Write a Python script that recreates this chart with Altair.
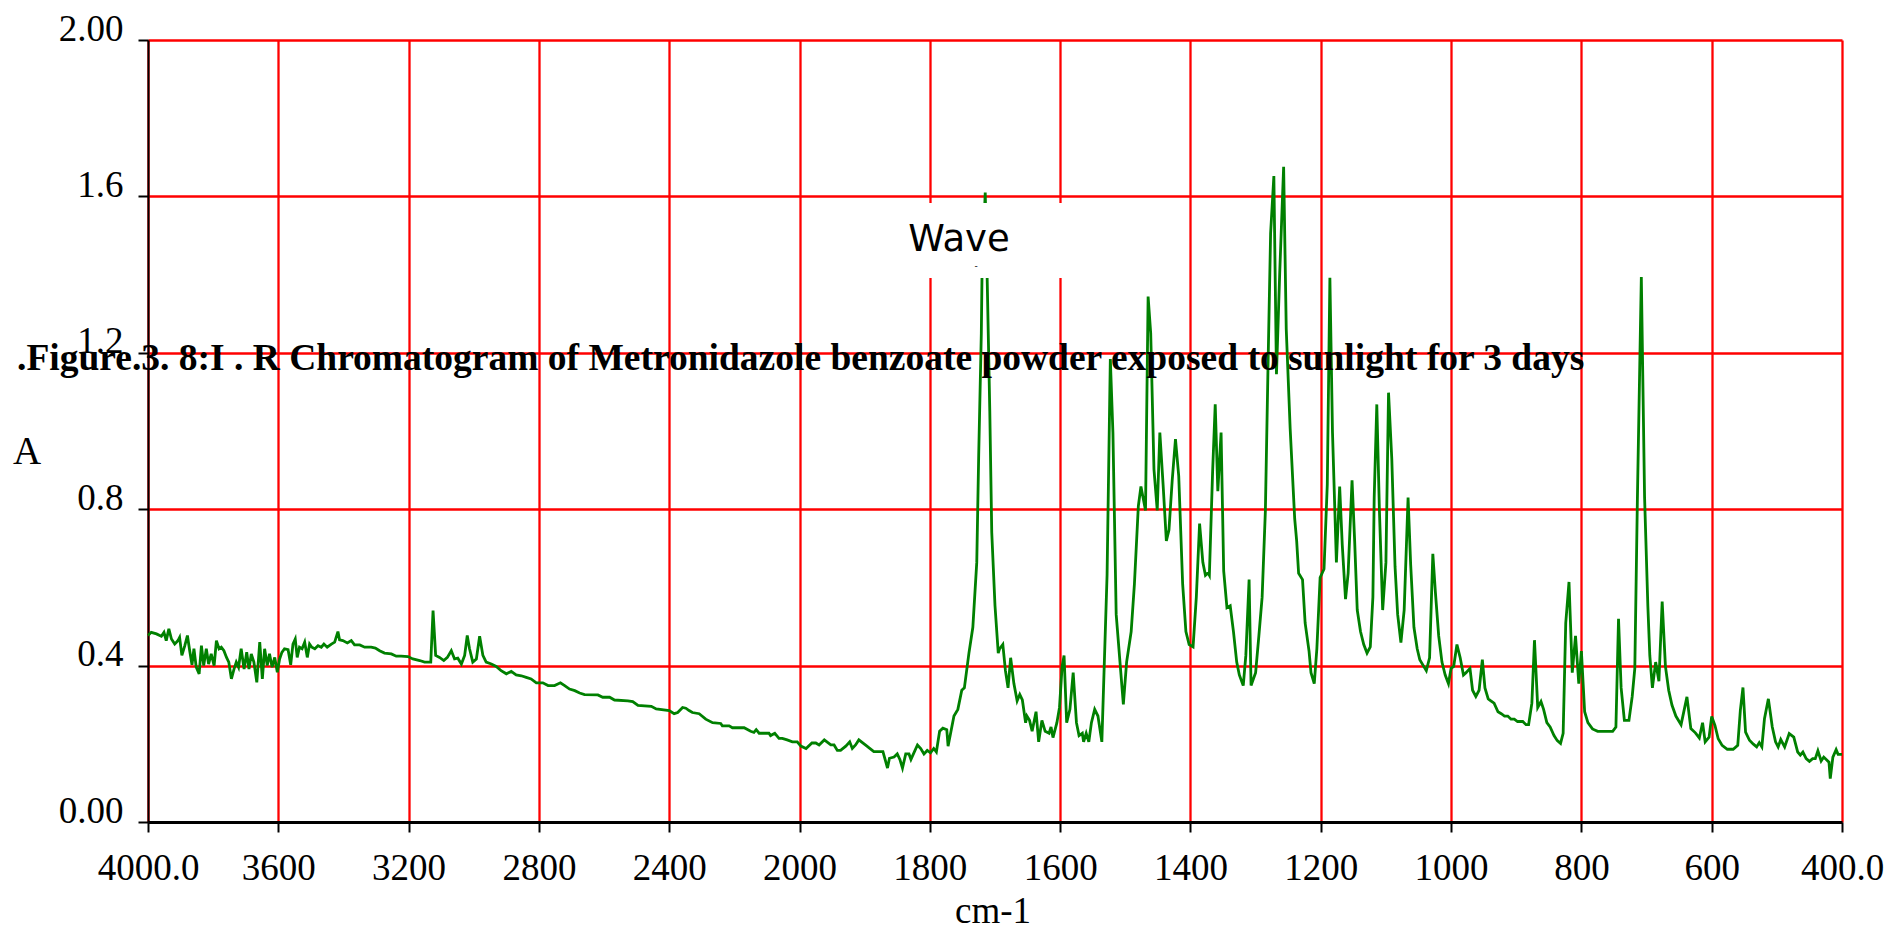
import altair as alt
import pandas as pd

# ---------------- data ----------------
WAVENUMBER = [
    4000, 3990, 3974, 3959, 3951, 3944, 3936, 3928, 3918, 3908, 3903, 3896, 3887, 3879, 3872, 3865,
    3859, 3852, 3843, 3836, 3829, 3821, 3814, 3806, 3797, 3790, 3782, 3775, 3767, 3759, 3752, 3744,
    3736, 3729, 3722, 3714, 3705, 3697, 3690, 3683, 3675, 3666, 3657, 3649, 3642, 3634, 3627, 3619,
    3611, 3603, 3596, 3589, 3581, 3570, 3562, 3555, 3548, 3542, 3535, 3527, 3519, 3511, 3504, 3497,
    3488, 3478, 3468, 3460, 3450, 3437, 3427, 3417, 3412, 3402, 3388, 3376, 3366, 3350, 3335, 3315,
    3302, 3289, 3274, 3253, 3238, 3223, 3202, 3187, 3166, 3151, 3132, 3125, 3117, 3105, 3092, 3081,
    3069, 3059, 3049, 3038, 3028, 3020, 3013, 3003, 2992, 2982, 2972, 2962, 2946, 2931, 2916, 2900,
    2885, 2870, 2854, 2839, 2824, 2808, 2788, 2772, 2752, 2734, 2721, 2706, 2690, 2675, 2660, 2619,
    2604, 2583, 2568, 2527, 2512, 2496, 2455, 2440,
    2400, 2385, 2374, 2359, 2349, 2339, 2329, 2308, 2288, 2267, 2242, 2237, 2216, 2206, 2170, 2150,
    2140, 2133, 2124, 2094, 2089, 2076, 2063, 2053, 2038, 2022, 2007, 1998, 1990, 1981, 1975, 1970,
    1962, 1952, 1947, 1942, 1937, 1929, 1923, 1919, 1914, 1909, 1899, 1886, 1872, 1865, 1862, 1855,
    1850, 1846, 1842, 1837, 1832, 1829, 1819, 1814, 1809, 1804, 1799, 1794, 1790, 1785, 1780, 1774,
    1772, 1763, 1757, 1751, 1747, 1740, 1734, 1728, 1725, 1721, 1720, 1715, 1712, 1708, 1705, 1700,
    1695, 1693, 1688, 1684, 1680, 1676, 1671, 1666, 1662, 1658, 1653, 1651, 1647, 1643, 1637, 1633,
    1628, 1623, 1617, 1614, 1611, 1605, 1601, 1597, 1594, 1590, 1585, 1580, 1575, 1571, 1566, 1564,
    1560, 1556, 1552, 1547, 1542, 1536, 1528, 1523, 1519, 1514, 1503, 1498, 1491, 1486, 1480, 1476,
    1469, 1465, 1461, 1456, 1451, 1447, 1442, 1437, 1433, 1428, 1423, 1418,
    1412, 1407, 1402, 1396, 1391, 1386, 1381, 1377, 1373, 1371, 1366, 1362, 1358, 1353, 1349, 1344,
    1339, 1334, 1329, 1325, 1319, 1315, 1310, 1307, 1300, 1295, 1290, 1285, 1281, 1277, 1272, 1268,
    1263, 1257, 1253, 1247, 1240, 1237, 1234, 1228, 1224, 1218, 1215, 1210, 1206, 1201, 1195, 1190,
    1186, 1182, 1176, 1171, 1167, 1162, 1158, 1152, 1148, 1144, 1139, 1134, 1129, 1124, 1120, 1118,
    1114, 1110, 1105, 1100, 1096, 1091, 1086, 1082, 1077, 1072, 1066, 1062, 1057, 1052, 1048, 1042,
    1038, 1033, 1028, 1024, 1019, 1014, 1009, 1004, 1000, 996, 991, 986, 981, 977, 971, 967,
    962, 957, 952, 948, 943, 939, 934, 928, 923, 918, 913, 908, 903, 898, 890, 885,
    881, 876, 872, 867, 862, 858, 853, 848, 842, 837, 832, 828, 824, 819, 814, 809,
    804, 800, 795, 790, 783, 775, 752, 747, 743, 739, 734, 727, 722, 718, 714, 708,
    703, 698, 695, 691, 686, 681, 676, 671, 666, 661, 655, 647,
    638, 632, 625, 619, 614, 610, 604, 600, 595, 590, 584, 576, 567, 560, 556, 552,
    548, 542, 536, 531, 527, 523, 519, 513, 507, 502, 498, 494, 488, 481, 474, 468,
    464, 460, 455, 450, 445, 441, 437, 432, 428, 420, 418, 414, 409, 406, 400,
]

ABSORBANCE = [
    0.477, 0.485, 0.481, 0.475, 0.485, 0.464, 0.494, 0.468, 0.455, 0.464, 0.472, 0.426, 0.451, 0.477, 0.438, 0.402,
    0.443, 0.396, 0.379, 0.451, 0.400, 0.443, 0.404, 0.430, 0.400, 0.464, 0.443, 0.447, 0.438, 0.421, 0.409, 0.366,
    0.391, 0.409, 0.396, 0.443, 0.391, 0.434, 0.391, 0.430, 0.409, 0.357, 0.460, 0.366, 0.443, 0.400, 0.430, 0.396,
    0.421, 0.383, 0.417, 0.434, 0.443, 0.441, 0.402, 0.455, 0.468, 0.421, 0.447, 0.443, 0.460, 0.421, 0.455, 0.447,
    0.443, 0.451, 0.447, 0.455, 0.447, 0.455, 0.460, 0.487, 0.466, 0.464, 0.458, 0.464, 0.453, 0.453, 0.447, 0.447,
    0.445, 0.438, 0.432, 0.430, 0.424, 0.424, 0.423, 0.417, 0.413, 0.409, 0.409, 0.541, 0.426, 0.421, 0.413, 0.421,
    0.438, 0.417, 0.419, 0.404, 0.426, 0.477, 0.443, 0.409, 0.417, 0.475, 0.426, 0.409, 0.404, 0.398, 0.387, 0.379,
    0.385, 0.376, 0.374, 0.370, 0.366, 0.356, 0.356, 0.349, 0.349, 0.356, 0.349, 0.340, 0.336, 0.330, 0.326, 0.325,
    0.319, 0.319, 0.312, 0.310, 0.308, 0.298, 0.296, 0.289,
    0.285, 0.277, 0.280, 0.293, 0.291, 0.285, 0.280, 0.277, 0.263, 0.254, 0.252, 0.246, 0.246, 0.241, 0.241, 0.232,
    0.229, 0.236, 0.227, 0.227, 0.221, 0.227, 0.214, 0.214, 0.210, 0.205, 0.205, 0.194, 0.188, 0.202, 0.202, 0.197,
    0.210, 0.197, 0.197, 0.183, 0.183, 0.194, 0.205, 0.188, 0.197, 0.210, 0.197, 0.180, 0.180, 0.138, 0.163, 0.166,
    0.174, 0.160, 0.138, 0.174, 0.174, 0.160, 0.197, 0.188, 0.174, 0.183, 0.177, 0.188, 0.179, 0.232, 0.240, 0.236,
    0.194, 0.271, 0.288, 0.337, 0.343, 0.432, 0.498, 0.664, 0.940, 1.250, 1.389, 1.610, 1.389, 1.051, 0.741, 0.553,
    0.432, 0.443, 0.454, 0.387, 0.343, 0.420, 0.354, 0.310, 0.326, 0.312, 0.254, 0.271, 0.260, 0.232, 0.282, 0.205,
    0.260, 0.232, 0.227, 0.243, 0.216, 0.254, 0.293, 0.398, 0.426, 0.254, 0.288, 0.382, 0.254, 0.221, 0.227, 0.205,
    0.227, 0.205, 0.254, 0.288, 0.271, 0.205, 0.631, 1.184, 0.996, 0.531, 0.301, 0.409, 0.487, 0.609, 0.808, 0.858,
    0.797, 1.344, 1.250, 0.902, 0.797, 0.996, 0.863, 0.719, 0.747, 0.874, 0.979, 0.885,
    0.609, 0.487, 0.454, 0.448, 0.575, 0.763, 0.664, 0.631, 0.637, 0.631, 0.896, 1.068, 0.846, 0.996, 0.642, 0.548,
    0.553, 0.487, 0.409, 0.376, 0.349, 0.426, 0.620, 0.349, 0.382, 0.476, 0.575, 0.797, 1.162, 1.505, 1.652, 1.145,
    1.405, 1.676, 1.261, 1.007, 0.775, 0.719, 0.636, 0.620, 0.509, 0.437, 0.382, 0.354, 0.443, 0.625, 0.647, 0.863,
    1.392, 0.996, 0.664, 0.858, 0.708, 0.570, 0.636, 0.874, 0.719, 0.542, 0.487, 0.454, 0.432, 0.448, 0.575, 0.830,
    1.068, 0.797, 0.542, 0.664, 1.098, 0.929, 0.653, 0.531, 0.459, 0.542, 0.830, 0.658, 0.498, 0.443, 0.415, 0.398,
    0.387, 0.420, 0.686, 0.586, 0.476, 0.409, 0.376, 0.354, 0.393, 0.398, 0.454, 0.420, 0.376, 0.382, 0.393, 0.337,
    0.321, 0.337, 0.415, 0.343, 0.315, 0.310, 0.304, 0.282, 0.277, 0.271, 0.271, 0.263, 0.263, 0.257, 0.257, 0.249,
    0.249, 0.304, 0.465, 0.293, 0.308, 0.288, 0.254, 0.243, 0.221, 0.208, 0.201, 0.227, 0.509, 0.614, 0.382, 0.476,
    0.354, 0.437, 0.282, 0.254, 0.238, 0.232, 0.232, 0.243, 0.520, 0.343, 0.260, 0.260, 0.321, 0.393, 0.830, 1.394,
    0.830, 0.553, 0.426, 0.343, 0.409, 0.360, 0.564, 0.398, 0.337, 0.299, 0.271, 0.249,
    0.320, 0.239, 0.228, 0.215, 0.254, 0.205, 0.217, 0.270, 0.247, 0.213, 0.196, 0.186, 0.186, 0.196, 0.286, 0.344,
    0.230, 0.209, 0.199, 0.192, 0.203, 0.192, 0.264, 0.315, 0.243, 0.205, 0.192, 0.211, 0.192, 0.226, 0.217, 0.179,
    0.171, 0.179, 0.162, 0.155, 0.162, 0.162, 0.182, 0.156, 0.166, 0.153, 0.111, 0.166, 0.185, 0.173, 0.173,
]

X_TICKS = [4000, 3600, 3200, 2800, 2400, 2000, 1800, 1600, 1400, 1200, 1000, 800, 600, 400]
X_TICK_LABELS = ["4000.0", "3600", "3200", "2800", "2400", "2000", "1800", "1600", "1400",
                 "1200", "1000", "800", "600", "400.0"]
Y_TICKS = [0, 0.4, 0.8, 1.2, 1.6, 2.0]
Y_TICK_LABELS = ["0.00", "0.4", "0.8", "1.2", "1.6", "2.00"]

TITLE = ".Figure.3. 8:I . R Chromatogram of Metronidazole benzoate powder exposed to sunlight for 3 days"
X_TITLE = "cm-1"
Y_TITLE = "A"
BOX_TEXT = "Wave"

# ---------------- layout ----------------
W, H = 1694, 782
SPLIT = W * 5 / 13  # x position of 2000 cm-1 (scale changes there)

df = pd.DataFrame({"wn": WAVENUMBER, "a": ABSORBANCE})


def label_expr(vals, labs):
    expr = "''"
    for v, l in reversed(list(zip(vals, labs))):
        expr = f"datum.value === {v} ? '{l}' : ({expr})"
    return expr


x_enc = alt.X(
    "wn:Q",
    scale=alt.Scale(domain=[4000, 2000, 400], range=[0, SPLIT, W], nice=False, zero=False),
    axis=alt.Axis(
        values=X_TICKS,
        labelExpr=label_expr(X_TICKS, X_TICK_LABELS),
        title=None,
        grid=True,
        gridColor="#ff0000",
        gridWidth=2.3,
        gridOpacity=1,
        domainColor="#000000",
        domainWidth=3,
        tickColor="#000000",
        tickWidth=2,
        tickSize=10,
        labelFont="Liberation Serif",
        labelFontSize=37,
        labelColor="#000000",
        labelBaseline="alphabetic",
        labelPadding=47,
        labelFlush=False,
        labelOverlap=False,
    ),
)
y_enc = alt.Y(
    "a:Q",
    scale=alt.Scale(domain=[0, 2], nice=False, zero=False),
    axis=alt.Axis(
        values=Y_TICKS,
        labelExpr=label_expr(Y_TICKS, Y_TICK_LABELS),
        title=None,
        grid=True,
        gridColor="#ff0000",
        gridWidth=2.3,
        gridOpacity=1,
        domainColor="#000000",
        domainWidth=2,
        tickColor="#000000",
        tickWidth=2,
        tickSize=10,
        labelFont="Liberation Serif",
        labelFontSize=37,
        labelColor="#000000",
        labelBaseline="alphabetic",
        labelAlign="right",
        labelPadding=15,
        labelFlush=False,
        labelOverlap=False,
    ),
)

line = alt.Chart(df).mark_line(color="#008000", strokeWidth=2.8).encode(x=x_enc, y=y_enc)

one = pd.DataFrame({"k": [0]})

box = alt.Chart(one).mark_rect(color="#ffffff", opacity=1).encode(
    x=alt.value(697), x2=alt.value(927), y=alt.value(163), y2=alt.value(238)
)

box_text = alt.Chart(one).mark_text(
    text=BOX_TEXT, font="DejaVu Sans", fontSize=37, align="center", baseline="alphabetic", color="#000000"
).encode(x=alt.value(811), y=alt.value(211))

box_dash = alt.Chart(one).mark_text(
    text="-", font="DejaVu Sans", fontSize=9, align="center", baseline="middle", color="#000000"
).encode(x=alt.value(828), y=alt.value(226))

title = alt.Chart(one).mark_text(
    text=TITLE, font="Liberation Serif", fontWeight="bold", fontSize=37.5,
    align="left", baseline="alphabetic", color="#000000"
).encode(x=alt.value(-131), y=alt.value(330))

y_title = alt.Chart(one).mark_text(
    text=Y_TITLE, font="Liberation Serif", fontSize=39,
    align="left", baseline="alphabetic", color="#000000"
).encode(x=alt.value(-135), y=alt.value(424))

x_title = alt.Chart(one).mark_text(
    text=X_TITLE, font="Liberation Serif", fontSize=37,
    align="center", baseline="alphabetic", color="#000000"
).encode(x=alt.value(845), y=alt.value(883))

chart = (
    alt.layer(line, box, box_text, box_dash, title, y_title, x_title)
    .properties(
        width=W,
        height=H,
        autosize=alt.AutoSizeParams(type="none"),
        padding={"left": 140, "top": 32, "right": 42, "bottom": 112},
        background="#ffffff",
    )
    .configure_view(strokeWidth=0)
)

chart.save("out.html", embed_options={"renderer": "svg", "actions": False})
